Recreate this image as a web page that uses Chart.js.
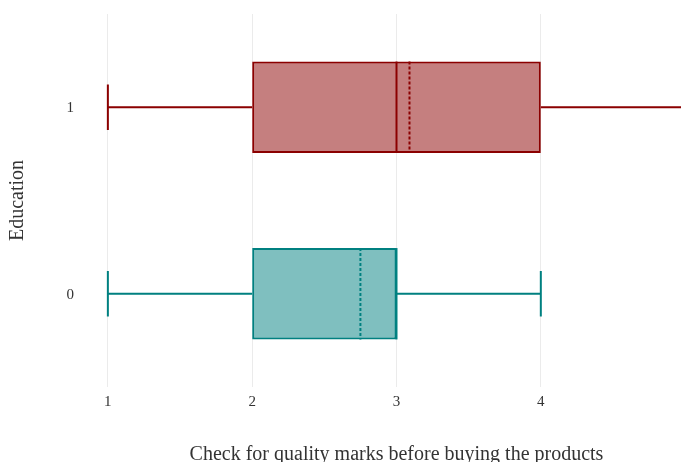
<!DOCTYPE html>
<html>
<head>
<meta charset="utf-8">
<script src="https://cdn.jsdelivr.net/npm/chart.js@4"></script>
<style>
  html, body { margin: 0; padding: 0; overflow: hidden; background: #fff; }
</style>
</head>
<body>
<canvas id="chart" width="714" height="462"></canvas>
<script>
// box plot data, top row first
const groups = ["1", "0"];
const mins = [1, 1];
const q1s = [2, 2];
const medians = [3, 3];
const q3s = [4, 3];
const maxs = [5, 4];
const means = [3.09, 2.75];
const xTicks = [1, 2, 3, 4];

const lineColors = ["#8b0000", "#008080"];
const fillColors = ["rgba(139, 0, 0, 0.5)", "rgba(0, 128, 128, 0.5)"];

const serif = "'Liberation Serif', 'Times New Roman', serif";

// whiskers, median and mean lines
const boxExtras = {
  id: "boxExtras",
  afterDatasetsDraw(chart) {
    const { ctx, chartArea, scales } = chart;
    const x = scales.x;
    const y = scales.y;
    const bars = chart.getDatasetMeta(0).data;
    ctx.save();
    ctx.beginPath();
    ctx.rect(chartArea.left, chartArea.top, chartArea.right - chartArea.left, chartArea.bottom - chartArea.top);
    ctx.clip();
    groups.forEach((g, i) => {
      const yc = y.getPixelForValue(i);
      const half = bars[i].height / 2;
      const cap = half / 2;
      ctx.strokeStyle = lineColors[i];
      ctx.lineWidth = 2;
      ctx.setLineDash([]);

      // whiskers
      ctx.beginPath();
      ctx.moveTo(x.getPixelForValue(mins[i]), yc);
      ctx.lineTo(x.getPixelForValue(q1s[i]), yc);
      ctx.moveTo(x.getPixelForValue(q3s[i]), yc);
      ctx.lineTo(x.getPixelForValue(maxs[i]), yc);
      ctx.stroke();

      // caps
      ctx.beginPath();
      [mins[i], maxs[i]].forEach((v) => {
        const px = x.getPixelForValue(v);
        ctx.moveTo(px, yc - cap);
        ctx.lineTo(px, yc + cap);
      });
      ctx.stroke();

      // median
      const mx = x.getPixelForValue(medians[i]);
      ctx.beginPath();
      ctx.moveTo(mx, yc - half);
      ctx.lineTo(mx, yc + half);
      ctx.stroke();

      // mean (dashed)
      const ax = x.getPixelForValue(means[i]);
      ctx.setLineDash([3, 2]);
      ctx.beginPath();
      ctx.moveTo(ax, yc - half);
      ctx.lineTo(ax, yc + half);
      ctx.stroke();
    });
    ctx.restore();
  },
};

const ctx = document.getElementById("chart").getContext("2d");

new Chart(ctx, {
  type: "bar",
  data: {
    labels: groups,
    datasets: [
      {
        data: groups.map((g, i) => [q1s[i], q3s[i]]),
        backgroundColor: fillColors,
        borderColor: lineColors,
        borderWidth: 2,
        borderSkipped: false,
        categoryPercentage: 1,
        barPercentage: 0.49,
      },
    ],
  },
  options: {
    indexAxis: "y",
    responsive: false,
    animation: false,
    layout: {
      padding: { top: 13, right: 0, bottom: 0, left: 0 },
    },
    scales: {
      x: {
        type: "linear",
        min: 0.8,
        max: 5.2,
        afterBuildTicks: (scale) => {
          scale.ticks = xTicks.map((v) => ({ value: v }));
        },
        afterFit: (scale) => {
          scale.height = 75;
        },
        grid: {
          color: "#ebebeb",
          lineWidth: 1,
          drawTicks: false,
        },
        border: { display: false },
        ticks: {
          color: "#333",
          padding: 6,
          font: { family: serif, size: 15 },
        },
        title: {
          display: true,
          text: "Check for quality marks before buying the products",
          color: "#333",
          padding: { top: 0, bottom: -5 },
          font: { family: serif, size: 20 },
        },
      },
      y: {
        type: "category",
        offset: true,
        afterFit: (scale) => {
          scale.width = 79;
        },
        grid: { display: false, drawTicks: false },
        border: { display: false },
        ticks: {
          color: "#333",
          padding: 5,
          labelOffset: 1,
          font: { family: serif, size: 15 },
        },
        title: {
          display: true,
          text: "Education",
          color: "#333",
          padding: { top: 6, bottom: 0 },
          font: { family: serif, size: 20 },
        },
      },
    },
    plugins: {
      legend: { display: false },
      tooltip: { enabled: false },
    },
  },
  plugins: [boxExtras],
});
</script>
</body>
</html>
